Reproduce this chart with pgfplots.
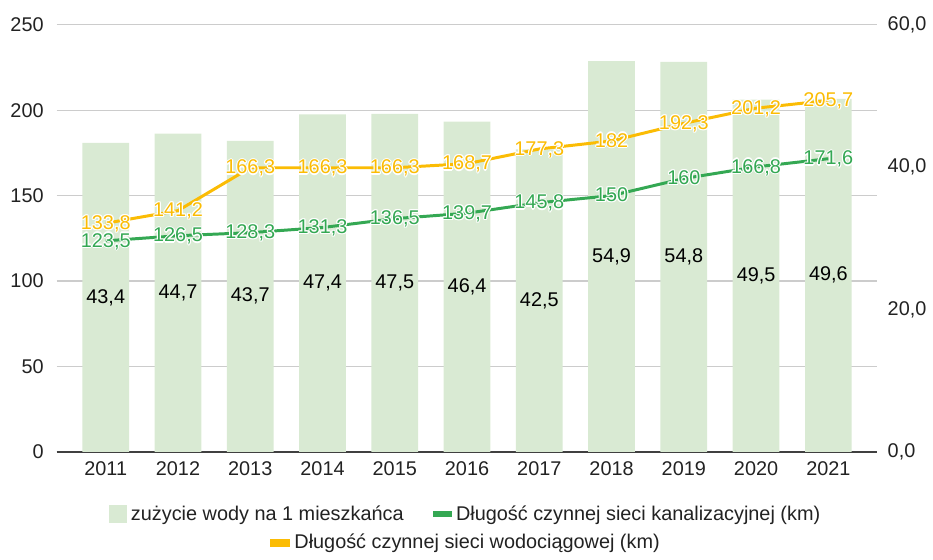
\documentclass[border=0pt]{standalone}
\usepackage{fontspec}
\setmainfont{Liberation Sans}
\usepackage{pgfplots}
\usepackage{pgfplotstable}
\pgfplotsset{compat=1.18}

\definecolor{barfill}{HTML}{D9EAD3}
\definecolor{sewer}{HTML}{34A853}
\definecolor{water}{HTML}{FBBC04}
\definecolor{gridc}{HTML}{CCCCCC}
\definecolor{txt}{HTML}{222222}

% white outline round the line labels
\newcommand{\halo}[1]{%
  \makebox[0pt][l]{\color{white}\hspace*{0.6pt}#1}%
  \makebox[0pt][l]{\color{white}\hspace*{-0.6pt}#1}%
  \makebox[0pt][l]{\color{white}\raisebox{0.6pt}{#1}}%
  \makebox[0pt][l]{\color{white}\raisebox{-0.6pt}{#1}}%
  \makebox[0pt][l]{\color{white}\hspace*{0.42pt}\raisebox{0.42pt}{#1}}%
  \makebox[0pt][l]{\color{white}\hspace*{-0.42pt}\raisebox{0.42pt}{#1}}%
  \makebox[0pt][l]{\color{white}\hspace*{0.42pt}\raisebox{-0.42pt}{#1}}%
  \makebox[0pt][l]{\color{white}\hspace*{-0.42pt}\raisebox{-0.42pt}{#1}}%
  #1}

\pgfplotstableread{
x  year use  sewer water
0  2011 43.4 123.5 133.8
1  2012 44.7 126.5 141.2
2  2013 43.7 128.3 166.3
3  2014 47.4 131.3 166.3
4  2015 47.5 136.5 166.3
5  2016 46.4 139.7 168.7
6  2017 42.5 145.8 177.3
7  2018 54.9 150   182
8  2019 54.8 160   192.3
9  2020 49.5 166.8 201.2
10 2021 49.6 171.6 205.7
}\data

\newcommand{\fs}{\fontsize{10}{12}\selectfont}

\pgfplotsset{
  base/.style={
    scale only axis, width=413pt, height=215pt,
    xmin=-0.68, xmax=10.67, clip=false,
    major tick length=0pt,
    tick label style={font=\fs, text=txt},
    /pgf/number format/assume math mode=true,
    /pgf/number format/.cd, use comma, fixed, precision=1, 1000 sep={},
  },
}

\begin{document}
\begin{tikzpicture}
% left axis with the grid
\begin{axis}[base, name=ax,
  ymin=0, ymax=250, ytick={0,50,100,150,200,250},
  axis y line*=left, axis x line=none,
  y axis line style={draw=none},
  ymajorgrids, grid style={gridc, line width=0.6pt},
  yticklabel style={xshift=-3pt},
]
\addplot[draw=none] coordinates {(0,0)};
\end{axis}

% bars on the right axis
\begin{axis}[base,
  ymin=0, ymax=60, ytick={0,20,40,60},
  yticklabel={\pgfmathprintnumber[fixed zerofill, precision=1]{\tick}},
  axis y line*=right, axis x line*=bottom,
  y axis line style={draw=none},
  x axis line style={-, draw=black!75, line width=0.8pt},
  yticklabel style={xshift=2pt},
  xtick={0,...,10},
  xticklabels={2011,2012,2013,2014,2015,2016,2017,2018,2019,2020,2021},
  xticklabel style={yshift=-1.5pt},
  legend style={at={(0.5,-0.1465)}, anchor=center, draw=none,
    font=\fs, text=txt, legend columns=2,
    /tikz/every even column/.append style={column sep=13pt}},
]
\addplot[ybar, bar width=23.5pt, fill=barfill, draw=none,
  legend image code/.code={\fill[barfill] (0pt,-4.5pt) rectangle (9pt,4.5pt);}]
  table[x=x, y=use] {\data};
\addplot[draw=none, mark=none, forget plot,
  nodes near coords,
  nodes near coords style={anchor=center, text=black, font=\fs},
  point meta=\thisrow{use}]
  table[x=x, y expr=\thisrow{use}/2] {\data};
\addlegendimage{legend image code/.code={\fill[sewer] (0pt,-1.3pt) rectangle (9pt,1.3pt);}}
\legend{zużycie wody na 1 mieszkańca, Długość czynnej sieci kanalizacyjnej (km)}
\end{axis}

% lines on the left axis
\begin{axis}[base,
  ymin=0, ymax=250, hide axis,
  legend style={at={(0.5,-0.214)}, anchor=center, draw=none,
    font=\fs, text=txt},
  nodes near coords={\halo{\pgfmathprintnumber{\pgfplotspointmeta}}},
  nodes near coords style={anchor=center, font=\fs, inner sep=0.5pt,
    text height=7.2pt, text depth=1pt},
]
\addplot[sewer, line width=1.5pt, mark=none, forget plot,
  nodes near coords style={text=sewer}, point meta=explicit]
  table[x=x, y=sewer, meta=sewer] {\data};
\addplot[water, line width=1.5pt, mark=none,
  nodes near coords style={text=water}, point meta=explicit,
  legend image code/.code={\fill[water] (0pt,-1.3pt) rectangle (9pt,1.3pt);}]
  table[x=x, y=water, meta=water] {\data};
\legend{Długość czynnej sieci wodociągowej (km)}
\end{axis}

\path (ax.south west) ++(-28.5pt,-51.5pt) (ax.north east) ++(25pt,12.5pt);
\end{tikzpicture}
\end{document}
